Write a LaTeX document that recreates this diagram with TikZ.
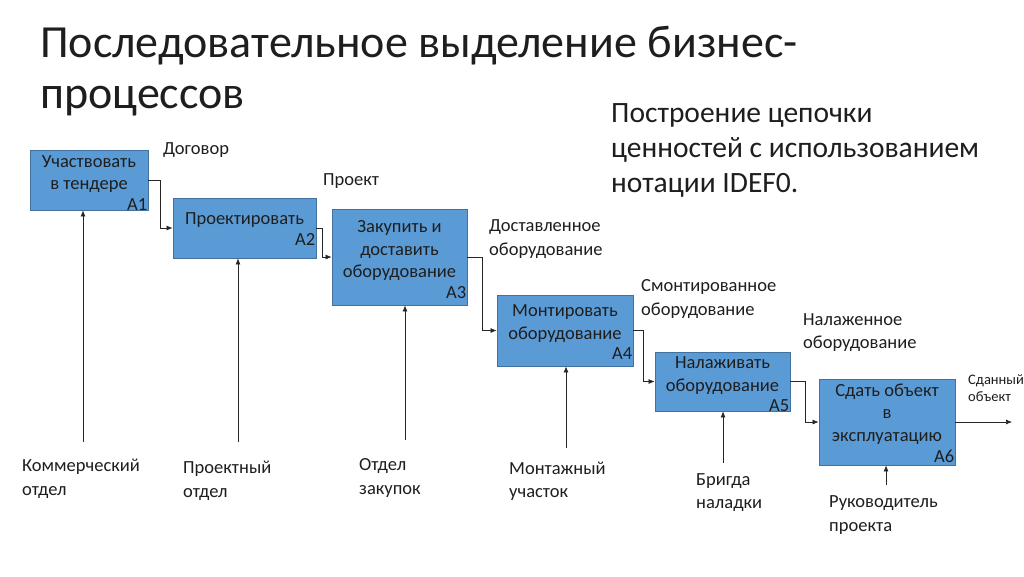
\documentclass[tikz,border=0pt]{standalone}
\usepackage{fontspec}
\setmainfont{Carlito}
\usetikzlibrary{arrows.meta}
\definecolor{boxfill}{HTML}{5B9BD5}
\definecolor{boxline}{HTML}{41719C}
\definecolor{txt}{HTML}{1E1E1E}
\begin{document}
\begin{tikzpicture}[x=1pt,y=-1pt,
  idefbox/.style={draw=boxline,line width=0.8pt,fill=boxfill,rectangle,inner sep=0pt},
  boxtxt/.style={inner sep=0pt,align=center,text=txt,font=\fontsize{18.5}{22.5}\selectfont},
  boxid/.style={anchor=north east,yshift=-5.5pt,inner xsep=1pt,inner ysep=0pt,text=txt,font=\fontsize{18.5}{22.5}\selectfont},
  lbl/.style={anchor=west,inner sep=0pt,align=left,text=txt,font=\fontsize{18.5}{23.5}\selectfont},
  arr/.style={draw=black!85,line width=0.7pt,-{Latex[length=6pt,width=5pt]}}]
\useasboundingbox (0,0) rectangle (1024,576);
\fill[white] (0,0) rectangle (1024,576);
% title
\node[lbl,font=\fontsize{46}{51}\selectfont] (title) at (40,71) {Последовательное выделение бизнес-\\процессов};
\node[lbl,font=\fontsize{29.5}{35}\selectfont] (note) at (611,150) {Построение цепочки\\ценностей с использованием\\нотации IDEF0.};
% boxes
\node[idefbox,minimum width=118pt,minimum height=60pt] (a1) at (89,180) {};
\node[idefbox,minimum width=143pt,minimum height=60pt] (a2) at (244.5,228) {};
\node[idefbox,minimum width=135pt,minimum height=96pt] (a3) at (399.5,257) {};
\node[idefbox,minimum width=136pt,minimum height=71pt] (a4) at (565,330.5) {};
\node[idefbox,minimum width=135pt,minimum height=59pt] (a5) at (722.5,381.5) {};
\node[idefbox,minimum width=136pt,minimum height=86pt] (a6) at (887,422) {};
\node[boxtxt] (t1) at ([yshift=6pt]a1.center) {Участвовать\\в тендере};
\node[boxtxt] (t2) at ([yshift=8pt]a2.center) {Проектировать};
\node[boxtxt] (t3) at ([yshift=6pt]a3.center) {Закупить и\\доставить\\оборудование};
\node[boxtxt] (t4) at ([yshift=7pt]a4.center) {Монтировать\\оборудование};
\node[boxtxt] (t5) at ([yshift=6pt]a5.center) {Налаживать\\оборудование};
\node[boxtxt] (t6) at ([yshift=8pt]a6.center) {Сдать объект\\в\\эксплуатацию};
\node[boxid] (id1) at (t1.south -| a1.east) {A1};
\node[boxid] (id2) at (t2.south -| a2.east) {A2};
\node[boxid] (id3) at (t3.south -| a3.east) {A3};
\node[boxid] (id4) at (t4.south -| a4.east) {A4};
\node[boxid] (id5) at (t5.south -| a5.east) {A5};
\node[boxid] (id6) at (t6.south -| a6.east) {A6};
% output labels
\node[lbl] (o1) at (163,150) {Договор};
\node[lbl] (o2) at (323,181) {Проект};
\node[lbl] (o3) at (489,239) {Доставленное\\оборудование};
\node[lbl] (o4) at (641,299) {Смонтированное\\оборудование};
\node[lbl] (o5) at (803,332.5) {Налаженное\\оборудование};
\node[lbl,font=\fontsize{14.5}{17}\selectfont] (o6) at (968,388.5) {Сданный\\объект};
% flow connectors
\draw[arr] (a1.east) -- ++(12,0) |- (a2.west);
\draw[arr] (a2.east) -- ++(6,0) |- (a3.west);
\draw[arr] (a3.east) -- ++(15,0) |- (a4.west);
\draw[arr] (a4.east) -- ++(10,0) |- (a5.west);
\draw[arr] (a5.east) -- ++(15,0) |- (a6.west);
\coordinate (out6) at (1012,422);
\draw[arr] (a6.east) -- (out6);
% mechanisms
\node[lbl] (m1) at (22,479) {Коммерческий\\отдел};
\node[lbl] (m2) at (183,481) {Проектный\\отдел};
\node[lbl] (m3) at (359,478) {Отдел\\закупок};
\node[lbl] (m4) at (509,481) {Монтажный\\участок};
\node[lbl] (m5) at (696,492.5) {Бригда\\наладки};
\node[lbl] (m6) at (829,515) {Руководитель\\проекта};
\coordinate (s1) at (83,442);
\coordinate (s2) at (238,442);
\coordinate (s3) at (405,440);
\coordinate (s4) at (566,448);
\coordinate (s5) at (723,463);
\coordinate (s6) at (886,485);
\draw[arr] (s1) -- (s1 |- a1.south);
\draw[arr] (s2) -- (s2 |- a2.south);
\draw[arr] (s3) -- (s3 |- a3.south);
\draw[arr] (s4) -- (s4 |- a4.south);
\draw[arr] (s5) -- (s5 |- a5.south);
\draw[arr] (s6) -- (s6 |- a6.south);
\end{tikzpicture}
\end{document}
